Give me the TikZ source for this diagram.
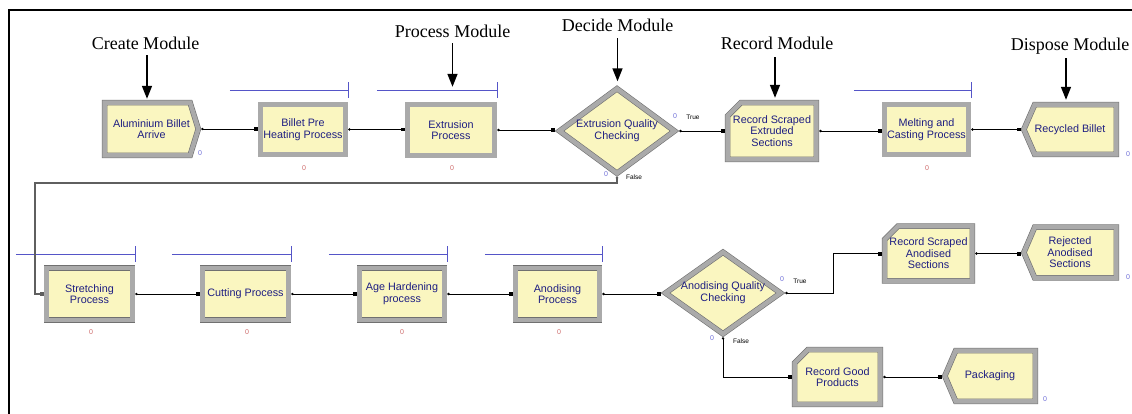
\documentclass[tikz,border=0pt]{standalone}
\usepackage{fontspec}
\setmainfont{Liberation Serif}
\setsansfont{Liberation Sans}
\usetikzlibrary{calc,arrows.meta}
\pgfdeclarelayer{bg}
\pgfsetlayers{bg,main}

\definecolor{modfill}{RGB}{250,246,192}
\definecolor{modgray}{RGB}{170,170,170}
\definecolor{modedge}{RGB}{112,112,112}
\definecolor{modtext}{RGB}{30,30,130}
\definecolor{qblue}{RGB}{85,85,200}
\definecolor{cntblue}{RGB}{110,110,215}
\definecolor{cntred}{RGB}{205,105,105}
\definecolor{loopgray}{RGB}{95,95,95}

\tikzset{
  module/.style={rectangle, inner sep=0pt, align=center, text=modtext,
    font=\sffamily\fontsize{10.8}{11.6}\selectfont},
  modshape/.style={fill=modfill, draw=modedge, double=modgray,
    double distance=4.4pt, line width=0.6pt, line join=miter},
  conn/.style={black, line width=0.7pt,
    {Circle[length=2.4pt]}-{Square[length=3.4pt,width=3.4pt]}},
  loopconn/.style={loopgray, line width=1.3pt,
    {Circle[length=2.4pt]}-{Square[length=3.4pt,width=3.4pt]}},
  qline/.style={draw=qblue, line width=1.4pt},
  head/.style={inner sep=0pt, font=\fontsize{18}{20}\selectfont},
  pointer/.style={black, line width=1.5pt, -{Triangle[length=13pt,width=10pt]}},
  cnt/.style={inner sep=0pt, font=\sffamily\fontsize{7}{7}\selectfont},
  tf/.style={inner sep=0pt, font=\sffamily\fontsize{6.5}{7}\selectfont},
}

% outlines of the module symbols, drawn behind the node texts
\newcommand\procshape[1]{\path[modshape]
  ($(#1.north west)+(2.8,2.8)$) -- ($(#1.north east)+(-2.8,2.8)$) --
  ($(#1.south east)+(-2.8,-2.8)$) -- ($(#1.south west)+(2.8,-2.8)$) -- cycle;}
\newcommand\createshape[1]{\path[modshape]
  ($(#1.north west)+(2.8,2.8)$) -- ($(#1.north east)+(-11.1,2.8)$) --
  ($(#1.east)+(-2.9,0)$) -- ($(#1.south east)+(-11.1,-2.8)$) --
  ($(#1.south west)+(2.8,-2.8)$) -- cycle;}
\newcommand\disposeshape[1]{\path[modshape]
  ($(#1.north west)+(13.9,2.8)$) -- ($(#1.north east)+(-2.8,2.8)$) --
  ($(#1.south east)+(-2.8,-2.8)$) -- ($(#1.south west)+(13.9,-2.8)$) --
  ($(#1.west)+(3,0)$) -- cycle;}
\newcommand\recordshape[1]{\path[modshape]
  ($(#1.north west)+(16.2,2.8)$) -- ($(#1.north east)+(-2.8,2.8)$) --
  ($(#1.south east)+(-2.8,-2.8)$) -- ($(#1.south west)+(2.8,-2.8)$) --
  ($(#1.north west)+(2.8,16.2)$) -- cycle;}
\newcommand\decideshape[1]{\path[modshape]
  ($(#1.north)+(0,3.4)$) -- ($(#1.east)+(-4.7,0)$) --
  ($(#1.south)+(0,-3.4)$) -- ($(#1.west)+(4.7,0)$) -- cycle;}
% queue bar above a process module
\newcommand\queuebar[2]{%
  \coordinate (qa) at ($(#1.north west)+(-28,-#2)$);
  \coordinate (qb) at ($(#1.north east)+(0,-#2)$);
  \draw[qline] (qa) -- (qb);
  \draw[qline] ($(qb)+(0,-8)$) -- ($(qb)+(0,8)$);}

\begin{document}
\begin{tikzpicture}[x=1pt,y=-1pt]
\useasboundingbox (0,0) rectangle (1132,414);

% frame
\draw[black, line width=2.2pt] (9,414) -- (9,10) -- (1132,10);

% upper row
\node[module, minimum width=99, minimum height=58] (create) at (151.5,129) {Aluminium Billet\\Arrive};
\node[module, minimum width=90, minimum height=55] (billet) at (303,129.5) {Billet Pre\\Heating Process};
\node[module, minimum width=92, minimum height=56] (extr) at (451,130) {Extrusion\\Process};
\node[module, minimum width=124, minimum height=91] (chk1) at (617,131) {Extrusion Quality\\Checking};
\node[module, minimum width=94, minimum height=62] (recext) at (772,131) {Record Scraped\\Extruded\\Sections};
\node[module, minimum width=89, minimum height=55] (melt) at (926.5,129.5) {Melting and\\Casting Process};
\node[module, minimum width=98, minimum height=55] (recyc) at (1070,129.5) {Recycled Billet};

% lower row
\node[module, minimum width=91, minimum height=57] (stretch) at (89.5,294) {Stretching\\Process};
\node[module, minimum width=91, minimum height=57] (cut) at (245.5,294) {Cutting Process};
\node[module, minimum width=90, minimum height=57] (age) at (402,294) {Age Hardening\\process};
\node[module, minimum width=89, minimum height=57] (anod) at (557.5,294) {Anodising\\Process};
\node[module, minimum width=124, minimum height=88] (chk2) at (723,293) {Anodising Quality\\Checking};
\node[module, minimum width=93, minimum height=60] (recanod) at (928.5,253.5) {Record Scraped\\Anodised\\Sections};
\node[module, minimum width=98, minimum height=56] (reject) at (1070,252.5) {Rejected\\Anodised\\Sections};
\node[module, minimum width=91, minimum height=60] (recgood) at (837.5,377) {Record Good\\Products};
\node[module, minimum width=96, minimum height=56] (pack) at (990,376) {Packaging};

\begin{pgfonlayer}{bg}
  \createshape{create}
  \procshape{billet} \procshape{extr} \procshape{melt}
  \procshape{stretch} \procshape{cut} \procshape{age} \procshape{anod}
  \decideshape{chk1} \decideshape{chk2}
  \recordshape{recext} \recordshape{recanod} \recordshape{recgood}
  \disposeshape{recyc} \disposeshape{reject} \disposeshape{pack}
\end{pgfonlayer}

% queue bars
\queuebar{billet}{11.5} \queuebar{extr}{11.5} \queuebar{melt}{11.5}
\queuebar{stretch}{11} \queuebar{cut}{11} \queuebar{age}{11} \queuebar{anod}{11}

% connectors
\draw[conn] (create.east) -- (create.east -| billet.west);
\draw[conn] (billet.east) -- (billet.east -| extr.west);
\draw[conn] (extr.east) -- (extr.east -| chk1.west);
\draw[conn] (chk1.east) -- (chk1.east -| recext.west);
\draw[conn] (recext.east) -- (recext.east -| melt.west);
\draw[conn] (melt.east) -- (melt.east -| recyc.west);
\coordinate (loopcorner) at (35,183);
\draw[loopconn] (chk1.south) |- (loopcorner) |- (stretch.west);
\draw[conn] (stretch.east) -- (stretch.east -| cut.west);
\draw[conn] (cut.east) -- (cut.east -| age.west);
\draw[conn] (age.east) -- (age.east -| anod.west);
\draw[conn] (anod.east) -- (anod.east -| chk2.west);
\coordinate (truebend) at (833,270);
\draw[conn] (chk2.east) -| (truebend) |- (recanod.west);
\draw[conn] (recanod.east) -- (recanod.east -| reject.west);
\draw[conn] (chk2.south) |- (recgood.west);
\draw[conn] (recgood.east) -- (recgood.east -| pack.west);

% branch labels
\node[tf] (t1) at (693,117) {True};
\node[tf] (f1) at (634,177.5) {False};
\node[tf] (t2) at (800,281) {True};
\node[tf] (f2) at (741,341) {False};

% counters
\foreach \n/\p in {c1/{(200,153)}, c2/{(675,116)}, c3/{(606,174)}, c4/{(1128,154)},
                   c5/{(782,279)}, c6/{(712,338)}, c7/{(1128,277)}, c8/{(1045,399)}}
  \node[cnt, text=cntblue] (\n) at \p {0};
\foreach \n/\p in {r1/{(304,168)}, r2/{(452,168)}, r3/{(927,168)}, r4/{(91,332)},
                   r5/{(247,332)}, r6/{(402,332)}, r7/{(559,332)}}
  \node[cnt, text=cntred] (\n) at \p {0};

% callouts
\node[head, anchor=base] (hcreate) at (145.5,50) {Create Module};
\node[head, anchor=base] (hprocess) at (452.5,37.5) {Process Module};
\node[head, anchor=base] (hdecide) at (617.5,31.5) {Decide Module};
\node[head, anchor=base] (hrecord) at (777,50) {Record Module};
\node[head, anchor=base] (hdispose) at (1070,51) {Dispose Module};

\draw[pointer] ([xshift=1.5pt,yshift=-5pt]hcreate.south) -- ([xshift=1.5pt,yshift=1pt]hcreate.south |- create.north);
\draw[pointer] ([yshift=-5.5pt]hprocess.south) -- ([yshift=15pt]hprocess.south |- extr.north);
\draw[pointer] ([yshift=-6.5pt]hdecide.south) -- ([yshift=4pt]hdecide.south |- chk1.north);
\draw[pointer] ([xshift=-2pt,yshift=-7pt]hrecord.south) -- ([xshift=-2pt,yshift=2pt]hrecord.south |- recext.north);
\draw[pointer] ([xshift=-4pt,yshift=-3pt]hdispose.south) -- ([xshift=-4pt,yshift=2pt]hdispose.south |- recyc.north);
\end{tikzpicture}
\end{document}
